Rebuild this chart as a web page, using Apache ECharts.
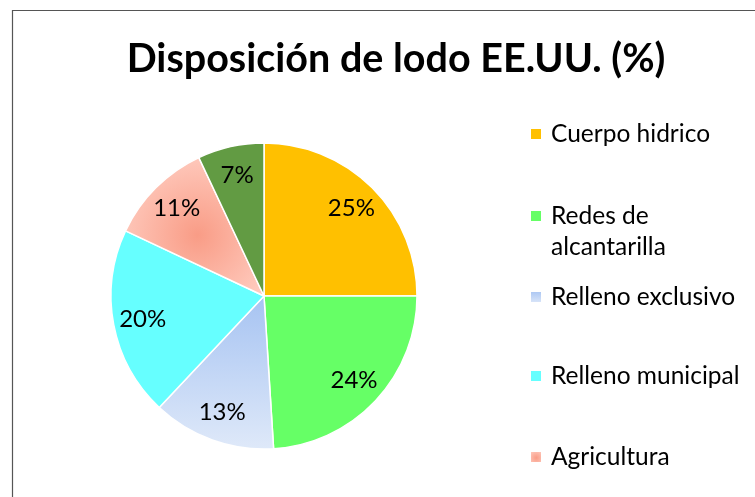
<!DOCTYPE html>
<html>
<head>
<meta charset="utf-8">
<script src="https://cdn.jsdelivr.net/npm/echarts@6/dist/echarts.min.js"></script>
<style>
  html, body { margin: 0; padding: 0; background: #fff; }
  #chart_pie { width: 755px; height: 497px; }
</style>
</head>
<body>
<div id="chart_pie"></div>
<script>
// sludge disposal in the US, share in %
const titleText = 'Disposición de lodo EE.UU. (%)'
const categories = ['Cuerpo hidrico', 'Redes de alcantarilla', 'Relleno exclusivo', 'Relleno municipal', 'Agricultura', 'Incineración']
const values = [25, 24, 13, 20, 11, 7]
// the last entry is cut off in the original legend
const legendNames = ['Cuerpo hidrico', 'Redes de alcantarilla', 'Relleno exclusivo', 'Relleno municipal', 'Agricultura']

const font = 'Lato, "Open Sans", sans-serif'

const colors = [
  '#FFC000',
  '#66FF66',
  new echarts.graphic.LinearGradient(0, 0, 0, 1, [
    { offset: 0, color: '#A6C3F2' },
    { offset: 1, color: '#DFE9F9' }
  ]),
  '#66FFFF',
  new echarts.graphic.RadialGradient(0.52, 0.56, 0.62, [
    { offset: 0, color: '#F99C86' },
    { offset: 1, color: '#FFCDC1' }
  ]),
  '#629B43'
]

const legendCenters = [134, 216, 297, 376, 457]

function makeLegend(name, i) {
  let twoLines = name === 'Redes de alcantarilla'
  return {
    data: [name],
    orient: 'vertical',
    left: 529,
    top: legendCenters[i] - (twoLines ? 46.5 : 15.5),
    padding: 0,
    itemWidth: 12,
    itemHeight: 12,
    icon: 'rect',
    selectedMode: false,
    formatter: n => (twoLines ? '\n' + n.replace(' de ', ' de\n') : n),
    textStyle: {
      fontFamily: font,
      fontSize: 24.5,
      lineHeight: 31,
      color: '#000',
      padding: [0, 0, 0, 4]
    }
  }
}

const chart = echarts.init(document.getElementById('chart_pie'))
chart.setOption({
  animation: false,
  title: {
    text: titleText,
    left: 391,
    textAlign: 'center',
    top: 34,
    textStyle: {
      fontFamily: font,
      fontWeight: 'bold',
      fontSize: 39.5,
      color: '#000'
    }
  },
  legend: legendNames.map(makeLegend),
  graphic: [
    {
      type: 'rect',
      shape: { x: 12.5, y: 10.5, width: 900, height: 700 },
      style: { fill: 'none', stroke: '#555', lineWidth: 1.2 },
      silent: true
    }
  ],
  series: [
    {
      type: 'pie',
      center: [264, 296],
      radius: 153,
      startAngle: 90,
      clockwise: true,
      label: { show: false },
      labelLine: { show: false },
      itemStyle: { borderColor: '#fff', borderWidth: 1.5 },
      emphasis: { disabled: true },
      data: categories.map((c, i) => ({
        name: c,
        value: values[i],
        itemStyle: { color: colors[i] }
      }))
    },
    {
      // label layer only, puts the percentages further out than 'inside' would
      type: 'pie',
      center: [264, 296],
      radius: [88, 153],
      startAngle: 90,
      clockwise: true,
      silent: true,
      legendHoverLink: false,
      emphasis: { disabled: true },
      itemStyle: { color: 'rgba(0,0,0,0)', borderWidth: 0 },
      labelLine: { show: false },
      label: {
        show: true,
        position: 'inside',
        formatter: '{c}%',
        fontFamily: font,
        fontSize: 24,
        color: '#000'
      },
      data: categories.map((c, i) => ({ name: c, value: values[i] }))
    }
  ]
})
</script>
</body>
</html>
